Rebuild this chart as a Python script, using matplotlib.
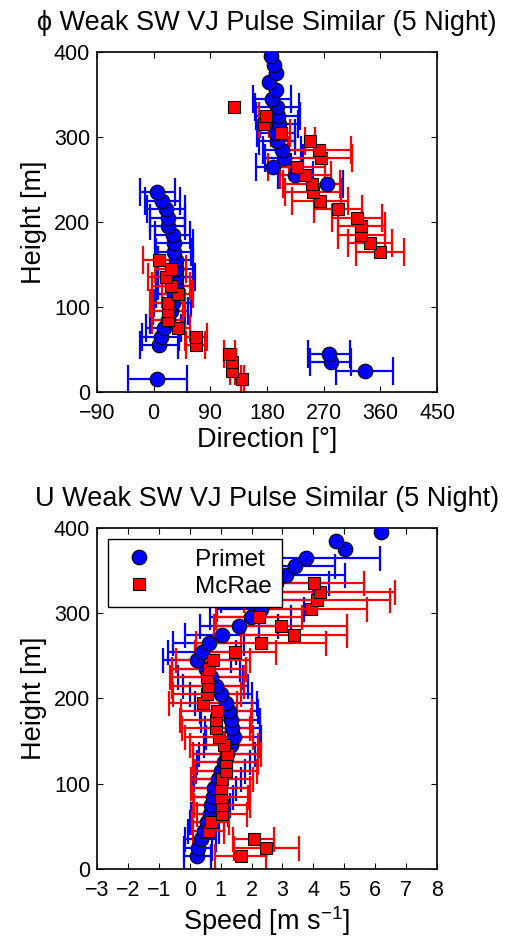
import numpy as np
import matplotlib
matplotlib.use('Agg')
import matplotlib.pyplot as plt

plt.rcParams['font.family'] = ['Liberation Sans', 'DejaVu Sans']
plt.rcParams['mathtext.fontset'] = 'custom'
plt.rcParams['mathtext.rm'] = 'Liberation Sans'
plt.rcParams['mathtext.it'] = 'Liberation Sans'

# heights of the two sites [m]
z_primet = np.arange(15, 400, 10)
z_mcrae = np.arange(15, 340, 10)

# wind direction [deg] and its spread
dir_primet = [6, 335, 281, 278, 8, 11, 16, 22, 27, 30, 32, 35, 35, 35, 35, 32, 32, 30, 22, 22,
              19, 14, 6, 276, 225, 190, 207, 204, 196, 194, 199, 197, 196, 188, 194, 183, 194, 191, 187]
dir_primet_err = [47, 45, 33, 33, 30, 30, 28, 28, 28, 30, 28, 28, 30, 28, 28, 28, 30, 28, 28, 28,
                  30, 28, 28, 25, 28, 28, 30, 30, 28, 30, 30, 35, 35, 30,
                  np.nan, np.nan, np.nan, np.nan, np.nan]
dir_mcrae = [141, 125, 125, 120, 67, 67, 38, 22, 22, 22, 38, 27, 19, 27, 8, 359, 344, 330, 330, 323,
             293, 264, 253, 251, 241, 227, 265, 263, 248, 202, 175, 178, 127]
dir_mcrae_err = [3, 4, 6, 9, 15, 18, 20, 25, 25, 28, 25, 30, 28, 25, 25, 38, 35, 38, 38, 40,
                 38, 45, 45, 45, 40, 45, 50, 50, 8, 15, 8, 10, np.nan]

# wind speed [m/s] and its spread
spd_primet = [0.25, 0.27, 0.35, 0.45, 0.55, 0.65, 0.70, 0.75, 0.80, 0.90, 1.00, 1.10, 1.20, 1.35,
              1.42, 1.38, 1.32, 1.27, 1.16, 1.00, 0.84, 0.68, 0.52, 0.25, 0.41, 0.62, 1.05, 1.59,
              1.97, 2.29, 2.50, 2.60, 2.80, 3.13, 3.40, 3.77, 5.03, 4.74, 6.20]
spd_primet_err = [0.45, 0.45, 0.5, 0.5, 0.55, 0.6, 0.6, 0.65, 0.7, 0.75, 0.8, 0.85, 0.9, 0.9,
                  0.9, 0.9, 0.95, 0.95, 1.0, 1.0, 1.05, 1.05, 1.1, 1.1, 1.1, 1.15, 1.2, 1.25,
                  1.3, 1.4, 1.5, 1.6, 1.7, 1.9, 1.3, 2.4, np.nan, np.nan, np.nan]
spd_mcrae = [1.65, 2.48, 2.07, 0.62, 0.68, 1.05, 1.05, 1.00, 1.00, 1.05, 1.16, 1.16, 1.22, 1.10,
             0.95, 0.84, 0.84, 0.87, 0.44, 0.55, 0.59, 0.57, 0.62, 0.76, 1.48, 2.31, 3.37, 2.94,
             2.24, 3.92, 4.12, 4.23, 4.03]
spd_mcrae_err = [0.83, 1.05, 0.67, 0.5, 0.6, 0.8, 0.9, 0.9, 0.95, 1.0, 1.0, 1.05, 1.1, 1.1,
                 1.1, 1.1, 1.15, 1.15, 1.1, 1.1, 1.15, 1.2, 1.2, 1.2, 1.3, 2.1, 1.72, 2.15,
                 1.4, 1.8, 2.36, 2.4, 1.6]


def draw_site(ax, x, xerr, z, color, marker, ms, cap, label):
    x = np.asarray(x, float)
    xerr = np.asarray(xerr, float)
    ok = np.isfinite(xerr)
    ax.errorbar(x[ok], z[ok], xerr=xerr[ok], fmt='none', ecolor=color,
                elinewidth=1.6, capsize=cap, capthick=1.6, zorder=2)
    ax.plot(x, z, linestyle='none', marker=marker, ms=ms, mfc=color,
            mec='k', mew=0.8, zorder=3, label=label)


def style_axes(ax):
    ax.tick_params(direction='in', top=True, right=True, labelsize=15.5,
                   length=4, width=0.8)
    ax.tick_params(axis='x', pad=8)
    ax.tick_params(axis='y', pad=5)
    for s in ax.spines.values():
        s.set_linewidth(1.2)


fig = plt.figure(figsize=(5.09, 9.43), dpi=100)

# direction panel
ax1 = fig.add_axes([0.1906, 0.5843, 0.668, 0.3606])
draw_site(ax1, dir_primet, dir_primet_err, z_primet, 'b', 'o', 10.5, 10, 'Primet')
draw_site(ax1, dir_mcrae, dir_mcrae_err, z_mcrae, 'r', 's', 8.5, 10, 'McRae')
ax1.set_xlim(-90, 450)
ax1.set_ylim(0, 400)
ax1.set_xticks(np.arange(-90, 451, 90))
ax1.set_yticks(np.arange(0, 401, 100))
style_axes(ax1)
ax1.set_title('\u03d5 Weak SW VJ Pulse Similar (5 Night)', fontsize=19.5, pad=16)
ax1.set_xlabel('Direction [\u00b0]', fontsize=19.5, labelpad=2)
ax1.set_ylabel('Height [m]', fontsize=19.5, labelpad=5)

# speed panel
ax2 = fig.add_axes([0.1906, 0.0785, 0.668, 0.3616])
draw_site(ax2, spd_primet, spd_primet_err, z_primet, 'b', 'o', 10.5, 9, 'Primet')
draw_site(ax2, spd_mcrae, spd_mcrae_err, z_mcrae, 'r', 's', 8.5, 9, 'McRae')
ax2.set_xlim(-3, 8)
ax2.set_ylim(0, 400)
ax2.set_xticks(np.arange(-3, 9, 1))
ax2.set_yticks(np.arange(0, 401, 100))
style_axes(ax2)
ax2.set_title('U Weak SW VJ Pulse Similar (5 Night)', fontsize=19.5, pad=16)
ax2.set_xlabel('Speed [m s$^{-1}$]', fontsize=19.5, labelpad=2)
ax2.set_ylabel('Height [m]', fontsize=19.5, labelpad=5)
leg = ax2.legend(loc='upper left', bbox_to_anchor=(0.032, 0.968), borderaxespad=0,
                 fontsize=17.5, frameon=True, fancybox=False, edgecolor='k', framealpha=1,
                 handletextpad=1.4, borderpad=0.4, labelspacing=0.2, handlelength=1.8)
leg.get_frame().set_linewidth(1.0)
leg.set_zorder(10)

fig.savefig('out.png', dpi=100)
